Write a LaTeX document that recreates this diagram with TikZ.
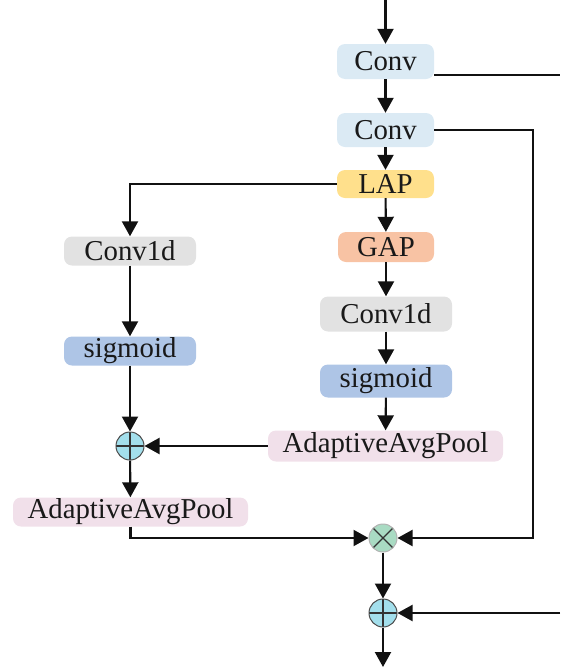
\documentclass[tikz,border=0pt]{standalone}
\usepackage{fontspec}
\setmainfont{Liberation Serif}
\usetikzlibrary{arrows.meta,calc}
\definecolor{cconv}{HTML}{DBEAF4}
\definecolor{clap}{HTML}{FFE08C}
\definecolor{cgap}{HTML}{F8C3A4}
\definecolor{cc1d}{HTML}{E2E2E2}
\definecolor{csig}{HTML}{AEC5E6}
\definecolor{caap}{HTML}{F1E0EA}
\definecolor{cot}{HTML}{A9DBC3}
\definecolor{cop}{HTML}{A3DFEC}
\definecolor{cline}{HTML}{111111}
\tikzset{
  box/.style={rounded corners=8pt, inner sep=0pt, font=\fontsize{28.8}{31}\selectfont, text=black!90},
  ln/.style={draw=cline, line width=2.1pt},
  arr/.style={ln, -{Triangle[width=16pt,length=15pt]}},
  opnode/.style={circle, minimum size=28pt, inner sep=0pt, fill=cop, draw=black!70, line width=1pt,
    path picture={\draw[black!80,line width=1.3pt] (path picture bounding box.north) -- (path picture bounding box.south)
      (path picture bounding box.west) -- (path picture bounding box.east);}},
  otnode/.style={circle, minimum size=28pt, inner sep=0pt, fill=cot, draw=black!30, line width=1pt,
    path picture={\draw[black!80,line width=1.3pt] (path picture bounding box.north west) -- (path picture bounding box.south east)
      (path picture bounding box.south west) -- (path picture bounding box.north east);}}
}
\begin{document}
\begin{tikzpicture}[x=1pt,y=-1pt]
\useasboundingbox (0,0) rectangle (560,667);
% nodes
\node[box, fill=cconv, minimum width=97pt, minimum height=35pt] (conv1) at (385.5,61.5) {Conv};
\node[box, fill=cconv, minimum width=97pt, minimum height=34pt] (conv2) at (385.5,130) {Conv};
\node[box, fill=clap, minimum width=97pt, minimum height=28pt] (lap) at (385.5,184) {LAP};
\node[box, fill=cgap, minimum width=96pt, minimum height=30pt] (gap) at (386,247) {GAP};
\node[box, fill=cc1d, minimum width=132pt, minimum height=35pt] (rc1) at (386,314) {Conv1d};
\node[box, fill=csig, minimum width=132pt, minimum height=33pt] (rsig) at (386,381) {sigmoid};
\node[box, fill=caap, minimum width=235pt, minimum height=31pt] (raap) at (385.5,446) {AdaptiveAvgPool};
\node[box, fill=cc1d, minimum width=132pt, minimum height=29pt] (lc1) at (130,251) {Conv1d};
\node[box, fill=csig, minimum width=132pt, minimum height=29pt] (lsig) at (130,351) {sigmoid};
\node[opnode] (lop) at (130,446) {};
\node[box, fill=caap, minimum width=235pt, minimum height=29pt] (laap) at (130.5,512) {AdaptiveAvgPool};
\node[otnode] (ot) at (383,538) {};
\node[opnode] (op) at (383,613) {};
% free ends
\coordinate (top) at (385.5,0);
\coordinate (e1) at (560,75);
\coordinate (c2) at (533,538);
\coordinate (e2) at (560,613);
\coordinate (bot) at (383,667);
% connectors
\draw[arr] (top) -- (conv1);
\draw[ln] (conv1.east |- e1) -- (e1);
\draw[arr] (conv1) -- (conv2);
\draw[arr] (conv2) -- (lap);
\draw[arr] (conv2.east) -| (c2) -- (ot);
\draw[arr] (lap.west) -| (lc1.north);
\draw[arr] (lap) -- (gap);
\draw[arr] (gap) -- (rc1);
\draw[arr] (rc1) -- (rsig);
\draw[arr] (rsig) -- (raap);
\draw[arr] (lc1) -- (lsig);
\draw[arr] (lsig) -- (lop);
\draw[arr] (raap.west) -- (lop);
\draw[arr] (lop) -- (laap);
\draw[arr] (laap.south) |- (ot.west);
\draw[arr] (ot) -- (op);
\draw[arr] (e2) -- (op);
\draw[arr] (op) -- (bot);
\end{tikzpicture}
\end{document}
